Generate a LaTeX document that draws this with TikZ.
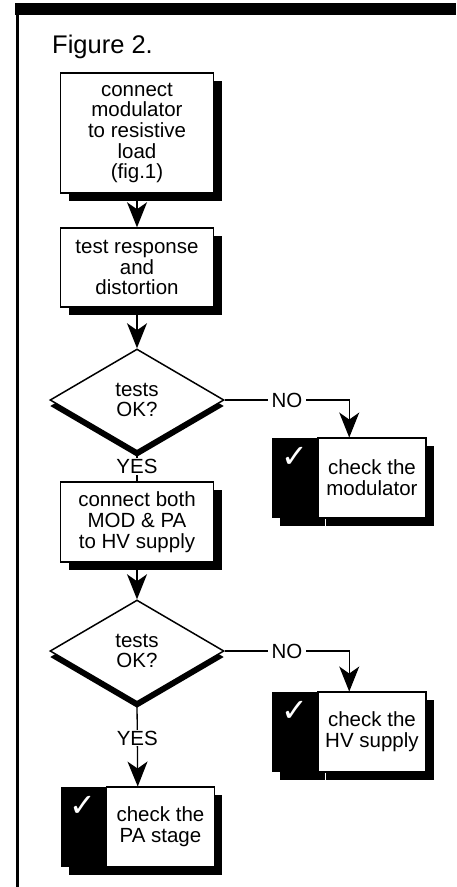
\documentclass[tikz,border=0pt]{standalone}
\usepackage{fontspec}
\setmainfont{Liberation Sans}
\newfontfamily\symfont{DejaVu Sans}
\usetikzlibrary{shapes.geometric,shadows,arrows.meta,calc}

\begin{document}
\begin{tikzpicture}[x=1pt, y=-1pt,
    txt/.style={font=\fontsize{20.5}{20.7}\selectfont},
    box/.style={rectangle, draw=black, line width=1.5pt, fill=white,
      minimum width=153pt, align=center, inner sep=0pt, txt,
      drop shadow={shadow xshift=8pt, shadow yshift=-8pt, fill=black, opacity=1}},
    decision/.style={diamond, draw=black, line width=1.5pt, fill=white,
      minimum width=174pt, minimum height=102pt, inner sep=0pt, aspect=1.7,
      align=center, txt,
      drop shadow={shadow xshift=0pt, shadow yshift=-6pt, fill=black, opacity=1}},
    chkbar/.style={rectangle, fill=black, minimum width=45pt, minimum height=80pt,
      inner sep=0pt,
      drop shadow={shadow xshift=8pt, shadow yshift=-8pt, fill=black, opacity=1}},
    chktext/.style={box, minimum width=108pt, minimum height=80pt},
    tick/.style={text=white, inner sep=0pt, font=\symfont\fontsize{32}{32}\selectfont},
    link/.style={line width=1.3pt},
    arrow/.style={link, -{Stealth[length=25pt, width=20pt, inset=7pt]}},
    lbl/.style={fill=white, inner xsep=4pt, inner ysep=1pt, txt}
  ]
    \useasboundingbox (0,0) rectangle (456,887);
    \fill (15,3) rectangle (456,15);
    \draw[line width=3pt] (17.5,15) -- (17.5,887);

    \node[anchor=base west, inner sep=0pt, font=\fontsize{25.5}{26}\selectfont]
      (title) at (52,53) {Figure 2.};

    \node[box, minimum height=120pt] (load) at (137,133)
      {connect\\modulator\\to resistive\\load\\(fig.1)};
    \node[box, minimum height=79pt] (test) at (137,267.5)
      {test response\\and\\distortion};
    \node[decision] (ok1) at (137,400) {tests\\OK?};
    \node[box, minimum height=80pt] (hv) at (137,522)
      {connect both\\MOD \& PA\\to HV supply};
    \node[decision] (ok2) at (137,651) {tests\\OK?};

    \node[chkbar] (modbar) at (294.5,478) {};
    \node[chktext, anchor=west] (mod) at (modbar.east) {check the\\modulator};
    \node[tick] (modtick) at ([yshift=-20pt]modbar.north) {✓};

    \node[chkbar] (hvbar) at (294.5,732) {};
    \node[chktext, anchor=west] (hvs) at (hvbar.east) {check the\\HV supply};
    \node[tick] (hvtick) at ([yshift=-20pt]hvbar.north) {✓};

    \node[chkbar] (pabar) at (83,827) {};
    \node[chktext, anchor=west] (pa) at (pabar.east) {check the\\PA stage};
    \node[tick] (patick) at ([yshift=-20pt]pabar.north) {✓};

    \draw[arrow] (load.south) -- (test.north);
    \draw[arrow] (test.south) -- (ok1.north);
    \draw[arrow] (ok1.east) -| node[lbl, pos=0.25] {NO}
      ($(modbar.north west)!.5!(mod.north east)$);
    \draw[link] (ok1.south) -- node[lbl] {YES} (hv.north);
    \draw[arrow] (hv.south) -- (ok2.north);
    \draw[arrow] (ok2.east) -| node[lbl, pos=0.25] {NO}
      ($(hvbar.north west)!.5!(hvs.north east)$);
    \draw[arrow] (ok2.south) -- node[lbl, pos=0.42] {YES}
      ($(pabar.north west)!.5!(pa.north east)$);
  \end{tikzpicture}
\end{document}
